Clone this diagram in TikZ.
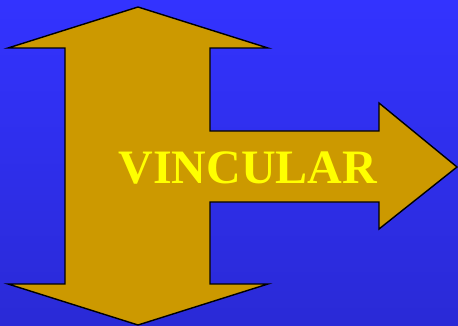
\documentclass[tikz,border=0pt]{standalone}
\usepackage{fontspec}
\setmainfont{Liberation Serif}
\usepackage{tikz}
\usetikzlibrary{positioning}
\usepackage{xcolor}
\definecolor{bgtop}{HTML}{3333FF}
\definecolor{bgbot}{HTML}{2A2AD6}
\definecolor{gold}{HTML}{CC9900}
\definecolor{txtyellow}{HTML}{FFFF00}

\begin{document}
\begin{tikzpicture}[x=1pt,y=-1pt,line join=miter,
  arrowshape/.style={fill=gold,draw=black,line width=1.4pt},
  label/.style={text=txtyellow,font=\fontsize{48}{50}\selectfont\bfseries}]
\shade[top color=bgtop,bottom color=bgbot] (0,0) rectangle (458,326);
\useasboundingbox (0,0) rectangle (458,326);
% three-way arrow
\draw[arrowshape] (138,7) -- (268,48) -- (210,48) -- (210,131) -- (379,131)
  -- (379,103) -- (457,167) -- (379,229) -- (379,202) -- (210,202)
  -- (210,284) -- (268,284) -- (138,325) -- (8,284) -- (65,284)
  -- (65,48) -- (8,48) -- cycle;
\node (vincular) [label] at (248,168) {VINCULAR};
\end{tikzpicture}
\end{document}
